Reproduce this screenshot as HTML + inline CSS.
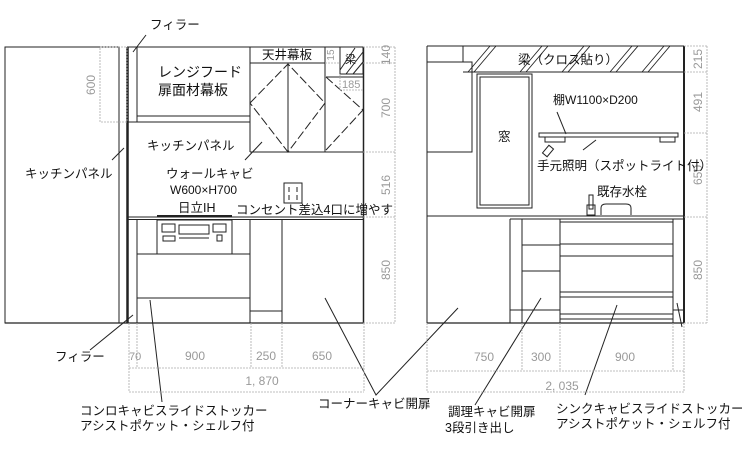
<!DOCTYPE html>
<html><head><meta charset="utf-8"><style>
html,body{margin:0;padding:0;background:#fff;}
svg{display:block;}
text{font-family:"Liberation Sans","Noto Sans CJK JP",sans-serif;fill:#111;}
.d{font-family:"Liberation Sans",sans-serif;fill:#999;font-size:12px;}
</style></head><body>
<svg width="742" height="469" viewBox="0 0 742 469" xmlns="http://www.w3.org/2000/svg">
<g fill="none" stroke="#222" stroke-width="1">
<rect x="5" y="47" width="114" height="276"/>
<line x1="119" y1="47" x2="119" y2="323"/>
<line x1="127.5" y1="47" x2="127.5" y2="323" stroke-width="2.5"/>
<line x1="127" y1="47" x2="364" y2="47"/>
<line x1="363.5" y1="47" x2="363.5" y2="323" stroke-width="1.5"/>
<line x1="5" y1="323" x2="364" y2="323" stroke-width="1.3"/>
<line x1="137" y1="47" x2="137" y2="122"/>
<rect x="137" y="47" width="113" height="69"/>
<line x1="127" y1="122" x2="250" y2="122"/>
<line x1="250" y1="47" x2="250" y2="152"/>
<line x1="250" y1="63" x2="325" y2="63"/>
<line x1="325" y1="47" x2="325" y2="152"/>
<line x1="250" y1="152" x2="364" y2="152"/>
<line x1="288" y1="64" x2="288" y2="152"/>
<polygon points="250,103 288,64 325,103 288,152" stroke-dasharray="9,3"/>
<rect x="340" y="47" width="23" height="27"/>
<line x1="340" y1="70" x2="355" y2="48"/><line x1="346" y1="74" x2="363" y2="52"/><line x1="353" y1="74" x2="363" y2="62"/>
<line x1="326" y1="77" x2="363" y2="77"/>
<polyline points="326,77 363,110 326,150" stroke-dasharray="9,3"/>
<line x1="127" y1="217" x2="364" y2="217"/>
<line x1="127" y1="219.5" x2="364" y2="219.5"/>
<line x1="157" y1="216" x2="232" y2="216" stroke-width="2"/>
<line x1="137" y1="219" x2="137" y2="323"/>
<rect x="157" y="220" width="75" height="34"/>
<rect x="162" y="224" width="13" height="8"/><rect x="179" y="225" width="30" height="9"/><rect x="213" y="224" width="13" height="8"/>
<rect x="163" y="236" width="12" height="5"/><line x1="179" y1="238" x2="209" y2="238"/><rect x="217" y="235" width="5" height="6"/>
<line x1="137" y1="254" x2="250" y2="254"/>
<line x1="137" y1="298" x2="250" y2="298"/>
<line x1="250" y1="219" x2="250" y2="323"/>
<line x1="282" y1="219" x2="282" y2="323"/>
<line x1="250" y1="311" x2="282" y2="311"/>
<rect x="284" y="183" width="18" height="20"/>
<line x1="289" y1="187" x2="289" y2="192"/><line x1="297" y1="187" x2="297" y2="192"/><line x1="289" y1="195" x2="289" y2="200"/><line x1="297" y1="195" x2="297" y2="200"/>
<line x1="133" y1="52" x2="146" y2="35"/>
<line x1="112" y1="160" x2="124" y2="148"/>
<line x1="245" y1="160" x2="262" y2="142"/>
<line x1="90" y1="350" x2="133" y2="315"/>
<line x1="150" y1="300" x2="162" y2="402"/>
<polyline points="325,298 376,395 458,308"/>
<line x1="427" y1="46" x2="684" y2="46"/>
<line x1="427" y1="46" x2="427" y2="323"/>
<line x1="684" y1="46" x2="684" y2="323" stroke-width="2"/>
<line x1="427" y1="323" x2="684" y2="323" stroke-width="1.3"/>
<line x1="463" y1="46" x2="463" y2="62"/>
<line x1="463" y1="72" x2="684" y2="72"/>
<g stroke-width="0.9">
<line x1="468" y1="72" x2="490" y2="46"/><line x1="474" y1="72" x2="496" y2="46"/>
<line x1="520" y1="72" x2="542" y2="46"/><line x1="526" y1="72" x2="548" y2="46"/>
<line x1="562" y1="72" x2="584" y2="46"/><line x1="568" y1="72" x2="590" y2="46"/>
<line x1="610" y1="72" x2="632" y2="46"/><line x1="616" y1="72" x2="638" y2="46"/>
<line x1="642" y1="72" x2="664" y2="46"/><line x1="648" y1="72" x2="670" y2="46"/>
</g>
<rect x="427" y="62" width="45" height="90"/>
<rect x="477" y="74" width="55" height="134"/>
<rect x="480" y="77" width="49" height="128"/>
<rect x="539" y="133" width="139" height="4"/>
<rect x="545" y="137" width="20" height="5"/><rect x="660" y="137" width="15" height="5"/>
<line x1="557" y1="112" x2="566" y2="134"/>
<line x1="583" y1="150" x2="596" y2="140"/>
<rect x="545" y="146" width="6" height="10" transform="rotate(40 548 151)"/>
<rect x="589" y="195" width="4" height="14"/><rect x="587" y="205" width="8" height="10"/>
<path d="M601 215 V208 Q601 204 606 204 H626 Q631 204 631 208 V215"/>
<line x1="427" y1="216" x2="684" y2="216"/>
<line x1="510" y1="219" x2="684" y2="219"/>
<line x1="510" y1="219" x2="510" y2="323"/>
<line x1="522" y1="219" x2="522" y2="323"/>
<line x1="560" y1="219" x2="560" y2="323"/>
<line x1="673" y1="219" x2="673" y2="323"/>
<line x1="522" y1="245" x2="560" y2="245"/>
<line x1="522" y1="271" x2="560" y2="271"/>
<line x1="510" y1="310" x2="560" y2="310"/>
<line x1="560" y1="222" x2="673" y2="222"/>
<line x1="560" y1="244" x2="673" y2="244"/>
<line x1="560" y1="256" x2="673" y2="256"/>
<line x1="560" y1="292" x2="673" y2="292"/>
<line x1="560" y1="297" x2="673" y2="297"/>
<line x1="560" y1="314" x2="673" y2="314"/>
<line x1="560" y1="319" x2="673" y2="319"/>
<line x1="673" y1="310" x2="684" y2="310"/>
<line x1="541" y1="298" x2="475" y2="405"/>
<line x1="617" y1="305" x2="585" y2="395"/>
<line x1="677" y1="303" x2="682" y2="327"/>
</g>
<g fill="none" stroke="#aaa" stroke-width="0.8" stroke-dasharray="2,1">
<rect x="100" y="47" width="27" height="75"/>
<line x1="363" y1="47" x2="395" y2="47"/><line x1="363" y1="63" x2="395" y2="63"/><line x1="363" y1="152" x2="395" y2="152"/><line x1="363" y1="217" x2="395" y2="217"/><line x1="363" y1="323" x2="395" y2="323"/>
<line x1="395" y1="47" x2="395" y2="323"/>
<line x1="325" y1="63" x2="340" y2="63"/><line x1="340" y1="74" x2="340" y2="90"/><line x1="340" y1="90" x2="363" y2="90"/>
<line x1="129" y1="323" x2="129" y2="392"/><line x1="137" y1="323" x2="137" y2="368"/><line x1="251" y1="323" x2="251" y2="368"/><line x1="282" y1="323" x2="282" y2="368"/><line x1="364" y1="323" x2="364" y2="392"/>
<line x1="129" y1="368" x2="364" y2="368"/><line x1="129" y1="392" x2="364" y2="392"/>
<line x1="684" y1="46" x2="707" y2="46"/><line x1="684" y1="72" x2="707" y2="72"/><line x1="684" y1="133" x2="707" y2="133"/><line x1="684" y1="217" x2="707" y2="217"/><line x1="684" y1="323" x2="707" y2="323"/>
<line x1="707" y1="46" x2="707" y2="323"/>
<line x1="427" y1="323" x2="427" y2="392"/><line x1="522" y1="323" x2="522" y2="371"/><line x1="560" y1="323" x2="560" y2="371"/><line x1="673" y1="323" x2="673" y2="371"/><line x1="684" y1="323" x2="684" y2="392"/>
<line x1="427" y1="371" x2="684" y2="371"/><line x1="427" y1="392" x2="684" y2="392"/>
</g>
<g class="d">
<text class="d" transform="translate(95,85) rotate(-90)" text-anchor="middle">600</text>
<text class="d" transform="translate(390,55) rotate(-90)" text-anchor="middle">140</text>
<text class="d" transform="translate(390,108) rotate(-90)" text-anchor="middle">700</text>
<text class="d" transform="translate(390,185) rotate(-90)" text-anchor="middle">516</text>
<text class="d" transform="translate(390,270) rotate(-90)" text-anchor="middle">850</text>
<text class="d" transform="translate(334,55) rotate(-90)" text-anchor="middle" style="font-size:10px">15</text>
<text class="d" x="342" y="88" style="font-size:11px">185</text>
<text class="d" x="129" y="360" style="font-size:11px">70</text>
<text class="d" x="195" y="360" text-anchor="middle">900</text>
<text class="d" x="266" y="360" text-anchor="middle">250</text>
<text class="d" x="322" y="360" text-anchor="middle">650</text>
<text class="d" x="262" y="385" text-anchor="middle">1, 870</text>
<text class="d" transform="translate(702,59) rotate(-90)" text-anchor="middle">215</text>
<text class="d" transform="translate(702,102) rotate(-90)" text-anchor="middle">491</text>
<text class="d" transform="translate(702,175) rotate(-90)" text-anchor="middle">650</text>
<text class="d" transform="translate(702,270) rotate(-90)" text-anchor="middle">850</text>
<text class="d" x="484" y="361" text-anchor="middle">750</text>
<text class="d" x="541" y="361" text-anchor="middle">300</text>
<text class="d" x="625" y="361" text-anchor="middle">900</text>
<text class="d" x="562" y="390" text-anchor="middle">2, 035</text>
</g>
<g font-size="12.5">
<text x="150" y="29">フィラー</text>
<text x="158" y="77" font-size="14">レンジフード</text>
<text x="158" y="95" font-size="14">扉面材幕板</text>
<text x="262" y="59">天井幕板</text>
<text x="345" y="63" font-size="11">梁</text>
<text x="25" y="178">キッチンパネル</text>
<text x="147" y="150">キッチンパネル</text>
<text x="166" y="178">ウォールキャビ</text>
<text x="170" y="194" font-size="12">W600×H700</text>
<text x="178" y="212">日立IH</text>
<text x="236" y="214">コンセント差込4口に増やす</text>
<text x="55" y="361">フィラー</text>
<text x="80" y="415">コンロキャビスライドストッカー</text>
<text x="80" y="430">アシストポケット・シェルフ付</text>
<text x="318" y="408">コーナーキャビ開扉</text>
<text x="518" y="64">梁（クロス貼り）</text>
<text x="498" y="141">窓</text>
<text x="553" y="104" font-size="12">棚W1100×D200</text>
<text x="537" y="170">手元照明（スポットライト付）</text>
<text x="597" y="196">既存水栓</text>
<text x="448" y="416">調理キャビ開扉</text>
<text x="445" y="432">3段引き出し</text>
<text x="556" y="413">シンクキャビスライドストッカー</text>
<text x="556" y="428">アシストポケット・シェルフ付</text>
</g>
</svg>
</body></html>
